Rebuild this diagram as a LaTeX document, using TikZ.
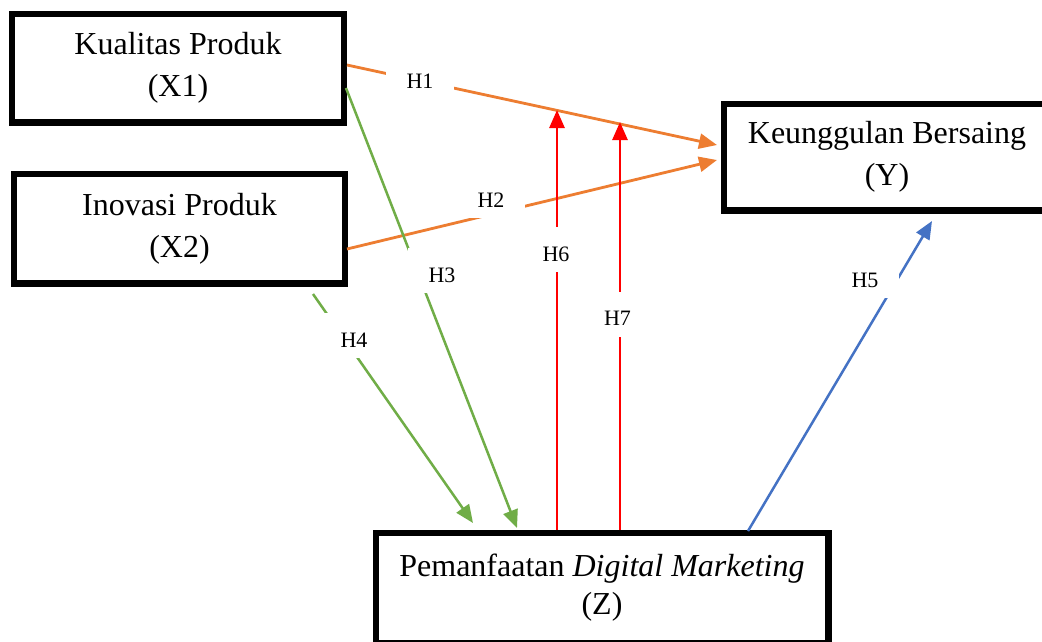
\documentclass[tikz,border=0pt]{standalone}
\usepackage{fontspec}
\setmainfont{Liberation Serif}
\usetikzlibrary{arrows.meta}
\definecolor{hOrange}{HTML}{ED7D31}
\definecolor{hGreen}{HTML}{70AD47}
\definecolor{hBlue}{HTML}{4472C4}
\definecolor{hRed}{HTML}{FF0000}
\tikzset{
  varbox/.style={draw=black, line width=6.5pt, fill=white, align=center,
    inner sep=0pt, font=\fontsize{32}{42}\selectfont},
  hyplabel/.style={fill=white, anchor=base, inner xsep=21pt, inner ysep=0pt,
    text height=34pt, text depth=11pt, font=\fontsize{22}{26}\selectfont},
  link/.style={line width=2.8pt, -{Triangle[length=18pt,width=15pt]}},
}
\begin{document}
\begin{tikzpicture}[x=1pt, y=-1pt]
  \clip (0,0) rectangle (1042,641);
  \fill[white] (0,0) rectangle (1042,641);

  % variable boxes
  \node[varbox, minimum width=332pt, minimum height=108.5pt] (x1) at (178,68.25)
    {Kualitas Produk\\(X1)};
  \node[varbox, minimum width=331pt, minimum height=109.5pt] (x2) at (179.5,228.75)
    {Inovasi Produk\\(X2)};
  \node[varbox, minimum width=326pt, minimum height=106.5pt] (y) at (887,157.25)
    {Keunggulan Bersaing\\(Y)};
  \node[varbox, minimum width=452.5pt, minimum height=110pt,
    font=\fontsize{32}{38}\selectfont] (z) at (602,588)
    {Pemanfaatan \textit{Digital Marketing}\\(Z)};

  % end points of the connectors on the boxes
  \coordinate (x1h1) at (347,65);
  \coordinate (x1h3) at (346,88);
  \coordinate (x2h2) at (347,249);
  \coordinate (x2h4) at (313,294);
  \coordinate (yh1) at (717,145);
  \coordinate (yh2) at (717,160);
  \coordinate (yh5) at (932,221);
  \coordinate (zh3) at (517,528);
  \coordinate (zh4) at (473,523);
  \coordinate (zh5) at (748,531);
  \coordinate (zh6) at (557,530);
  \coordinate (zh7) at (620,530);
  \coordinate (h6tip) at (557,110);
  \coordinate (h7tip) at (620,122);

  % direct effects on Y
  \draw[link, hOrange] (x1h1) -- (yh1);
  \draw[link, hOrange] (x2h2) -- (yh2);

  % moderating effects of Z
  \draw[link, hRed] (zh6) -- (h6tip);
  \draw[link, hRed] (zh7) -- (h7tip);

  % effects on Z
  \draw[link, hGreen, line width=2.5pt] (x1h3) -- (zh3);
  \draw[link, hGreen, line width=2.5pt] (x2h4) -- (zh4);

  % effect of Z on Y
  \draw[link, hBlue, line width=2.5pt] (zh5) -- (yh5);

  % hypothesis labels
  \node[hyplabel] (h1) at (420,88) {H1};
  \node[hyplabel] (h2) at (491,207) {H2};
  \node[hyplabel] (h3) at (442,282) {H3};
  \node[hyplabel] (h4) at (354,347) {H4};
  \node[hyplabel] (h5) at (865,287) {H5};
  \node[hyplabel] (h6) at (556,261) {H6};
  \node[hyplabel] (h7) at (617.5,325.5) {H7};
\end{tikzpicture}
\end{document}
